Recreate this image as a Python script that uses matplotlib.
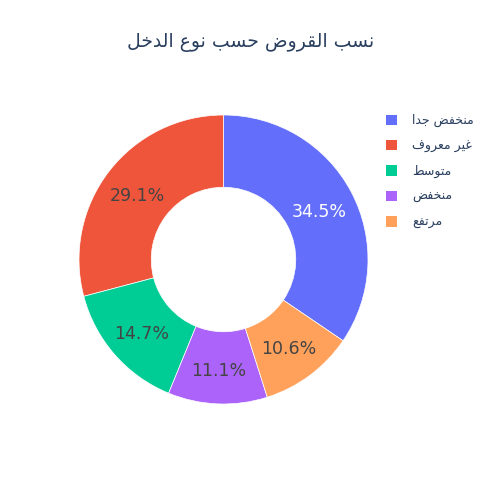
import matplotlib
matplotlib.use("Agg")
import matplotlib.pyplot as plt
import matplotlib.transforms as mtransforms
from matplotlib.patches import Patch

plt.rcParams['font.family'] = ['DejaVu Sans']

title = "نسب القروض حسب نوع الدخل"
labels = ["منخفض جدا", "غير معروف", "متوسط", "منخفض", "مرتفع"]
values = [34.5, 29.1, 14.7, 11.1, 10.6]
colors = ["#636efa", "#EF553B", "#00cc96", "#ab63fa", "#FFA15A"]
text_colors = ["white", "#444444", "#444444", "#444444", "#444444"]

# --- minimal Arabic shaping (presentation forms) + RTL ordering ---
FORMS = {
    'ا': (0xFE8D, 0xFE8E, None, None),
    'ب': (0xFE8F, 0xFE90, 0xFE91, 0xFE92),
    'ت': (0xFE95, 0xFE96, 0xFE97, 0xFE98),
    'ج': (0xFE9D, 0xFE9E, 0xFE9F, 0xFEA0),
    'ح': (0xFEA1, 0xFEA2, 0xFEA3, 0xFEA4),
    'خ': (0xFEA5, 0xFEA6, 0xFEA7, 0xFEA8),
    'د': (0xFEA9, 0xFEAA, None, None),
    'ر': (0xFEAD, 0xFEAE, None, None),
    'س': (0xFEB1, 0xFEB2, 0xFEB3, 0xFEB4),
    'ض': (0xFEBD, 0xFEBE, 0xFEBF, 0xFEC0),
    'ط': (0xFEC1, 0xFEC2, 0xFEC3, 0xFEC4),
    'ع': (0xFEC9, 0xFECA, 0xFECB, 0xFECC),
    'غ': (0xFECD, 0xFECE, 0xFECF, 0xFED0),
    'ف': (0xFED1, 0xFED2, 0xFED3, 0xFED4),
    'ق': (0xFED5, 0xFED6, 0xFED7, 0xFED8),
    'ل': (0xFEDD, 0xFEDE, 0xFEDF, 0xFEE0),
    'م': (0xFEE1, 0xFEE2, 0xFEE3, 0xFEE4),
    'ن': (0xFEE5, 0xFEE6, 0xFEE7, 0xFEE8),
    'و': (0xFEED, 0xFEEE, None, None),
    'ي': (0xFEF1, 0xFEF2, 0xFEF3, 0xFEF4),
}


def shape(s):
    out = []
    n = len(s)
    for i, ch in enumerate(s):
        if ch not in FORMS:
            out.append(ch)
            continue
        iso, fin, ini, med = FORMS[ch]
        prev = s[i - 1] if i > 0 else None
        nxt = s[i + 1] if i < n - 1 else None
        cp = prev in FORMS and FORMS[prev][2] is not None
        cn = nxt in FORMS and ini is not None
        if cp and cn:
            out.append(chr(med))
        elif cp:
            out.append(chr(fin))
        elif cn:
            out.append(chr(ini))
        else:
            out.append(chr(iso))
    return ''.join(out)[::-1]


fig = plt.figure(figsize=(5, 5), dpi=100)
fig.patch.set_facecolor('white')
ax = fig.add_axes([79 / 500, 96 / 500, 289 / 500, 289 / 500])
ax.set_aspect('equal')

total = sum(values)
start = 90 - 360 * values[0] / total
wedges, texts, autotexts = ax.pie(
    values, colors=colors, startangle=start, counterclock=True,
    radius=1.0, autopct='%1.1f%%', pctdistance=0.75,
    wedgeprops=dict(width=0.5, edgecolor='white', linewidth=0.5),
    textprops=dict(fontsize=12.5))
shift = mtransforms.ScaledTranslation(0, -3 / 100, fig.dpi_scale_trans)
for t, c in zip(autotexts, text_colors):
    t.set_color(c)
    t.set_transform(t.get_transform() + shift)
ax.set_xlim(-1, 1)
ax.set_ylim(-1, 1)

fig.text(251 / 500, 1 - 43 / 500, shape(title), ha='center', va='center',
         fontsize=13.5, color='#2a3f5f')

handles = [Patch(facecolor=c, edgecolor='none') for c in colors]
leg = fig.legend(handles, [shape(l) for l in labels],
                 loc='upper left', bbox_to_anchor=(381 / 500, 1 - 109 / 500),
                 frameon=False, handlelength=0.9, handleheight=0.9,
                 handletextpad=1.2, labelspacing=0.98, borderaxespad=0,
                 prop=dict(size=9))
for t in leg.get_texts():
    t.set_color('#2a3f5f')

fig.savefig('out.png', dpi=100, facecolor='white')
